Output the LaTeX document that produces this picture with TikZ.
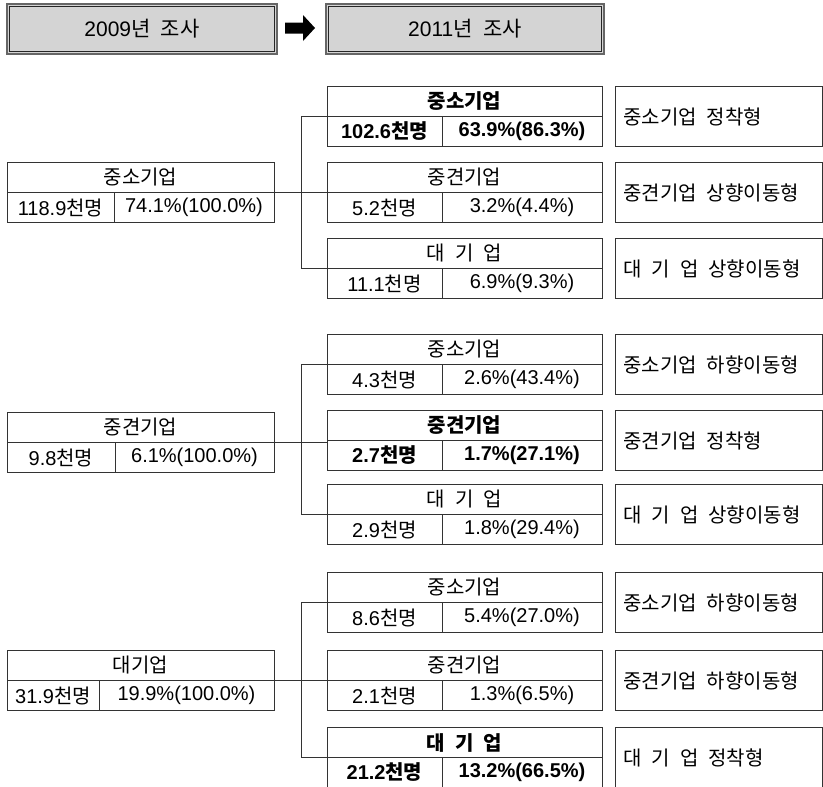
\documentclass[tikz,border=0pt]{standalone}
\usepackage{fontspec}
\setmainfont{Noto Sans CJK KR}
\newfontfamily\ls{Liberation Sans}
\usetikzlibrary{calc}
\newcommand{\gsp}{\hspace{0.5em}}
\newcommand{\ctable}[9]{%
  \node[tbl, minimum width=#4pt] (#1) at (#2,#3) {};
  \draw[ln] (#1.west) -- (#1.east);
  \pgfmathsetmacro{\tdx}{#2+#5}%
  \draw[ln] (\tdx,#3+30) -- (\tdx,#3+60);
  \node[txt] (#1-t) at ({#2+#4/2}, #3+15.5) {#9#6};
  \node[txt] (#1-a) at ({#2+#5/2}, #3+45.5) {#9#7};
  \node[txt] (#1-b) at ({(\tdx+#2+#4)/2}, #3+45.5) {#9#8};
}
\newcommand{\ctype}[3]{%
  \node[tbl, minimum width=207pt] (#1) at (615,#2) {};
  \node[txt, anchor=west] (#1-t) at ([xshift=8pt]#1.west) {#3};
}
\newcommand{\pct}[1]{{\ls #1}}
\begin{document}
\begin{tikzpicture}[x=1pt,y=-1pt,
  ln/.style={draw=black!80, line width=1pt},
  tbl/.style={ln, rectangle, inner sep=0pt, minimum height=60pt, anchor=north west},
  txt/.style={inner sep=0pt, font=\fontsize{20}{20}\selectfont},
  hdr/.style={rectangle, draw=black!60, line width=2pt, fill=black!17, inner sep=0pt,
              minimum width=270pt, minimum height=50pt, anchor=north west},
  htxt/.style={inner sep=0pt, font=\fontsize{21}{21}\selectfont}]
\useasboundingbox (0,0) rectangle (823,787);

% headers
\node[hdr] (H1) at (6,3) {};
\draw[black!85, line width=1.2pt] ([shift={(3.5pt,-3.5pt)}]H1.north west) rectangle ([shift={(-3.5pt,3.5pt)}]H1.south east);
\node[htxt] (H1t) at (H1.center) {{\ls 2009}년\gsp 조사};
\node[hdr, minimum width=278pt] (H2) at (325,3) {};
\draw[black!85, line width=1.2pt] ([shift={(3.5pt,-3.5pt)}]H2.north west) rectangle ([shift={(-3.5pt,3.5pt)}]H2.south east);
\node[htxt] (H2t) at (H2.center) {{\ls 2011}년\gsp 조사};
\fill[black] (285,22.5) -- (303,22.5) -- (303,15) -- (315,28) -- (303,41) -- (303,33.5) -- (285,33.5) -- cycle;

% left tables
\ctable{L1}{7}{162}{267}{107}{중소기업}{\pct{118.9}천명}{\pct{74.1\%(100.0\%)}}{}
\ctable{L2}{7}{412}{267}{108}{중견기업}{\pct{9.8}천명}{\pct{6.1\%(100.0\%)}}{}
\ctable{L3}{7}{650}{267}{92}{대기업}{\pct{31.9}천명}{\pct{19.9\%(100.0\%)}}{}

% right tables group 1
\ctable{R11}{327}{86}{275}{115}{중소기업}{\pct{102.6}천명}{\pct{63.9\%(86.3\%)}}{\bfseries}
\ctable{R12}{327}{162}{275}{115}{중견기업}{\pct{5.2}천명}{\pct{3.2\%(4.4\%)}}{}
\ctable{R13}{327}{238}{275}{115}{대\gsp 기\gsp 업}{\pct{11.1}천명}{\pct{6.9\%(9.3\%)}}{}
% group 2
\ctable{R21}{327}{334}{275}{115}{중소기업}{\pct{4.3}천명}{\pct{2.6\%(43.4\%)}}{}
\ctable{R22}{327}{410}{275}{115}{중견기업}{\pct{2.7}천명}{\pct{1.7\%(27.1\%)}}{\bfseries}
\ctable{R23}{327}{484}{275}{115}{대\gsp 기\gsp 업}{\pct{2.9}천명}{\pct{1.8\%(29.4\%)}}{}
% group 3
\ctable{R31}{327}{572}{275}{115}{중소기업}{\pct{8.6}천명}{\pct{5.4\%(27.0\%)}}{}
\ctable{R32}{327}{650}{275}{115}{중견기업}{\pct{2.1}천명}{\pct{1.3\%(6.5\%)}}{}
\ctable{R33}{327}{727}{275}{115}{대\gsp 기\gsp 업}{\pct{21.2}천명}{\pct{13.2\%(66.5\%)}}{\bfseries}

% type boxes
\ctype{T11}{86}{중소기업\gsp 정착형}
\ctype{T12}{162}{중견기업\gsp 상향이동형}
\ctype{T13}{238}{대\gsp 기\gsp 업\gsp 상향이동형}
\ctype{T21}{334}{중소기업\gsp 하향이동형}
\ctype{T22}{410}{중견기업\gsp 정착형}
\ctype{T23}{484}{대\gsp 기\gsp 업\gsp 상향이동형}
\ctype{T31}{572}{중소기업\gsp 하향이동형}
\ctype{T32}{650}{중견기업\gsp 하향이동형}
\ctype{T33}{727}{대\gsp 기\gsp 업\gsp 정착형}

% connectors
\draw[ln] (L1.east) -- (R12.west);
\draw[ln] (R11.west) -- ++(-26,0) |- (R13.west);
\draw[ln] (L2.east) -- (L2.east -| R22.west);
\draw[ln] (R21.west) -- ++(-26,0) |- (R23.west);
\draw[ln] (L3.east) -- (R32.west);
\draw[ln] (R31.west) -- ++(-26,0) |- (R33.west);
\end{tikzpicture}
\end{document}
